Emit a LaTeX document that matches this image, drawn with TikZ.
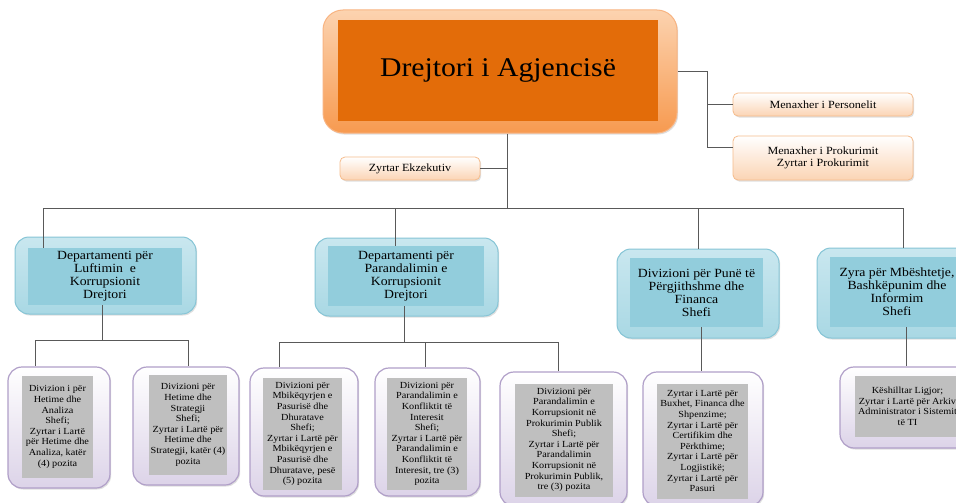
\documentclass[tikz,border=0pt]{standalone}
\usepackage{fontspec}
\setmainfont{Liberation Serif}[FakeStretch=1.1]
\usetikzlibrary{shadows}

\definecolor{orangeIn}{HTML}{E36C09}
\definecolor{orangeTop}{HTML}{FCD3B0}
\definecolor{orangeBot}{HTML}{F79A50}
\definecolor{orangeLine}{HTML}{F8B482}
\definecolor{peach}{HTML}{FBD4B4}
\definecolor{peachLine}{HTML}{F6BC8C}
\definecolor{blueIn}{HTML}{92CDDC}
\definecolor{blueTop}{HTML}{C9E7EF}
\definecolor{blueBot}{HTML}{A9D8E4}
\definecolor{blueLine}{HTML}{86C5D6}
\definecolor{grayIn}{HTML}{BFBFBF}
\definecolor{lilacBot}{HTML}{DCD3E8}
\definecolor{lilacLine}{HTML}{B09FC8}
\definecolor{lineGray}{HTML}{595959}

\tikzset{
  conn/.style={draw=lineGray, line width=0.8pt},
  wh/.style 2 args={minimum width=#1, minimum height=#2},
  softshadow/.style={drop shadow={shadow xshift=1.2pt, shadow yshift=-1.5pt, opacity=0.25}},
  topOuter/.style={rectangle, rounded corners=20pt, top color=orangeTop, bottom color=orangeBot,
    draw=orangeLine, line width=1pt, softshadow},
  topInner/.style={rectangle, fill=orangeIn, inner sep=0pt, font=\fontsize{27}{30}\selectfont},
  peachBox/.style={rectangle, rounded corners=5pt, top color=white, bottom color=peach,
    draw=peachLine, line width=0.8pt, inner sep=0pt, align=center, softshadow,
    font=\fontsize{11}{11.7}\selectfont},
  blueOuter/.style={rectangle, rounded corners=14pt, top color=blueTop, bottom color=blueBot,
    draw=blueLine, line width=1pt, softshadow},
  blueInner/.style={rectangle, fill=blueIn, inner sep=0pt, align=center,
    font=\fontsize{12.5}{13}\selectfont},
  lilacOuter/.style={rectangle, rounded corners=14pt, top color=white, bottom color=lilacBot,
    draw=lilacLine, line width=1.2pt, softshadow},
  grayInner/.style={rectangle, fill=grayIn, inner sep=0pt, align=center,
    font=\fontsize{9.3}{10.6}\selectfont},
}

\begin{document}
\begin{tikzpicture}[x=1pt, y=-1pt]
  \useasboundingbox (0,0) rectangle (956,503);
  \fill[white] (0,0) rectangle (956,503);

  % Director
  \node[topOuter, wh={354pt}{123pt}] (dirOut) at (500,71.5) {};
  \node[topInner, wh={320pt}{101pt}] (dirIn) at (498,70.5) {Drejtori i Agjencisë};

  % Staff boxes
  \node[peachBox, wh={140pt}{23pt}] (ekz) at (410,168.5) {Zyrtar Ekzekutiv};
  \node[peachBox, wh={180pt}{23pt}] (pers) at (823,104.5) {Menaxher i Personelit};
  \node[peachBox, wh={180pt}{44pt}] (prok) at (823,158)
    {Menaxher i Prokurimit\\Zyrtar i Prokurimit};

  % Departments
  \node[blueOuter, wh={181pt}{77pt}] (d1Out) at (105.5,275.5) {};
  \node[blueInner, wh={154pt}{57pt}] (d1In) at (105,276.5)
    {Departamenti për\\Luftimin \ e\\Korrupsionit\\Drejtori};
  \node[blueOuter, wh={183pt}{78pt}] (d2Out) at (406.5,277) {};
  \node[blueInner, wh={156pt}{60pt}] (d2In) at (406,276)
    {Departamenti për\\Parandalimin e\\Korrupsionit\\Drejtori};
  \node[blueOuter, wh={162pt}{89pt}] (d3Out) at (698,293.5) {};
  \node[blueInner, wh={133pt}{69pt}] (d3In) at (696.5,292.5)
    {Divizioni për Punë të\\Përgjithshme dhe\\Financa\\Shefi};
  \node[blueOuter, wh={162pt}{90pt}] (d4Out) at (898,293) {};
  \node[blueInner, wh={134pt}{70pt}] (d4In) at (897,292)
    {Zyra për Mbështetje,\\Bashkëpunim dhe\\Informim\\Shefi};

  % Divisions
  \node[lilacOuter, wh={102pt}{121pt}] (l3a) at (59,427.5) {};
  \node[grayInner, wh={71pt}{102pt}] (g3a) at (57.5,427)
    {Divizion i për\\Hetime dhe\\Analiza\\Shefi;\\Zyrtar i Lartë\\për Hetime dhe\\Analiza, katër\\(4) pozita};
  \node[lilacOuter, wh={106pt}{118pt}] (l3b) at (186,426) {};
  \node[grayInner, wh={78pt}{100pt}] (g3b) at (188,425)
    {Divizioni për\\Hetime dhe\\Strategji\\Shefi;\\Zyrtar i Lartë për\\Hetime dhe\\Strategji, katër (4)\\pozita};
  \node[lilacOuter, wh={108pt}{128pt}] (l3c) at (304,432) {};
  \node[grayInner, wh={79pt}{112pt}] (g3c) at (302.5,434)
    {Divizioni për\\Mbikëqyrjen e\\Pasurisë dhe\\Dhuratave\\Shefi;\\Zyrtar i Lartë për\\Mbikëqyrjen e\\Pasurisë dhe\\Dhuratave, pesë\\(5) pozita};
  \node[lilacOuter, wh={105pt}{128pt}] (l3d) at (427.5,432) {};
  \node[grayInner, wh={80pt}{112pt}] (g3d) at (427,434)
    {Divizioni për\\Parandalimin e\\Konfliktit të\\Interesit\\Shefi;\\Zyrtar i Lartë për\\Parandalimin e\\Konfliktit të\\Interesit, tre (3)\\pozita};
  \node[lilacOuter, wh={127pt}{134pt}] (l3e) at (563.5,439) {};
  \node[grayInner, wh={98pt}{113pt}] (g3e) at (564,440)
    {Divizioni për\\Parandalimin e\\Korrupsionit në\\Prokurimin Publik\\Shefi;\\Zyrtar i Lartë për\\Parandalimin\\Korrupsionit në\\Prokurimin Publik,\\tre (3) pozita};
  \node[lilacOuter, wh={120pt}{134pt}] (l3f) at (703,439) {};
  \node[grayInner, wh={91pt}{115pt}] (g3f) at (702.5,441)
    {Zyrtar i Lartë për\\Buxhet, Financa dhe\\Shpenzime;\\Zyrtar i Lartë për\\Certifikim dhe\\Përkthime;\\Zyrtar i Lartë për\\Logjistikë;\\Zyrtar i Lartë për\\Pasuri};
  \node[lilacOuter, wh={135pt}{81pt}] (l3g) at (907.5,407.5) {};
  \node[grayInner, wh={105pt}{61pt}] (g3g) at (907.5,406.5)
    {Këshilltar Ligjor;\\Zyrtar i Lartë për Arkiv\\Administrator i Sistemit\\të TI};

  % Top connectors
  \coordinate (hub) at (507,208);
  \draw[conn] (hub |- dirOut.south) -- (hub);
  \draw[conn] (ekz.east) -- (ekz.east -| hub);
  \coordinate (rb) at (707,147);
  \draw[conn] (dirOut.east) -| (rb) -- (rb -| prok.west);
  \draw[conn] (rb |- pers.west) -- (pers.west);

  % Main bus
  \coordinate (b1) at (43,208);
  \coordinate (b2) at (395,208);
  \coordinate (b3) at (698,208);
  \coordinate (b4) at (903,208);
  \draw[conn] (b1) -- (b4);
  \draw[conn] (b1) -- (b1 |- d1In.north);
  \draw[conn] (b2) -- (b2 |- d2In.north);
  \draw[conn] (b3) -- (b3 |- d3Out.north);
  \draw[conn] (b4) -- (b4 |- d4Out.north);

  % Department 1
  \coordinate (s1) at (102,340);
  \coordinate (t1a) at (35,340);
  \coordinate (t1b) at (188,340);
  \draw[conn] (s1 |- d1In.south) -- (s1);
  \draw[conn] (t1a) -- (t1b);
  \draw[conn] (t1a) -- (t1a |- l3a.north);
  \draw[conn] (t1b) -- (t1b |- l3b.north);

  % Department 2
  \coordinate (s2) at (404,342);
  \coordinate (t2c) at (279,342);
  \coordinate (t2d) at (425,342);
  \coordinate (t2e) at (558,342);
  \draw[conn] (s2 |- d2In.south) -- (s2);
  \draw[conn] (t2c) -- (t2e);
  \draw[conn] (t2c) -- (t2c |- l3c.north);
  \draw[conn] (t2d) -- (t2d |- l3d.north);
  \draw[conn] (t2e) -- (t2e |- l3e.north);

  % Division 3 and office 4
  \coordinate (s3) at (701,0);
  \coordinate (s4) at (906,0);
  \draw[conn] (s3 |- d3In.south) -- (s3 |- l3f.north);
  \draw[conn] (s4 |- d4In.south) -- (s4 |- l3g.north);
\end{tikzpicture}
\end{document}
